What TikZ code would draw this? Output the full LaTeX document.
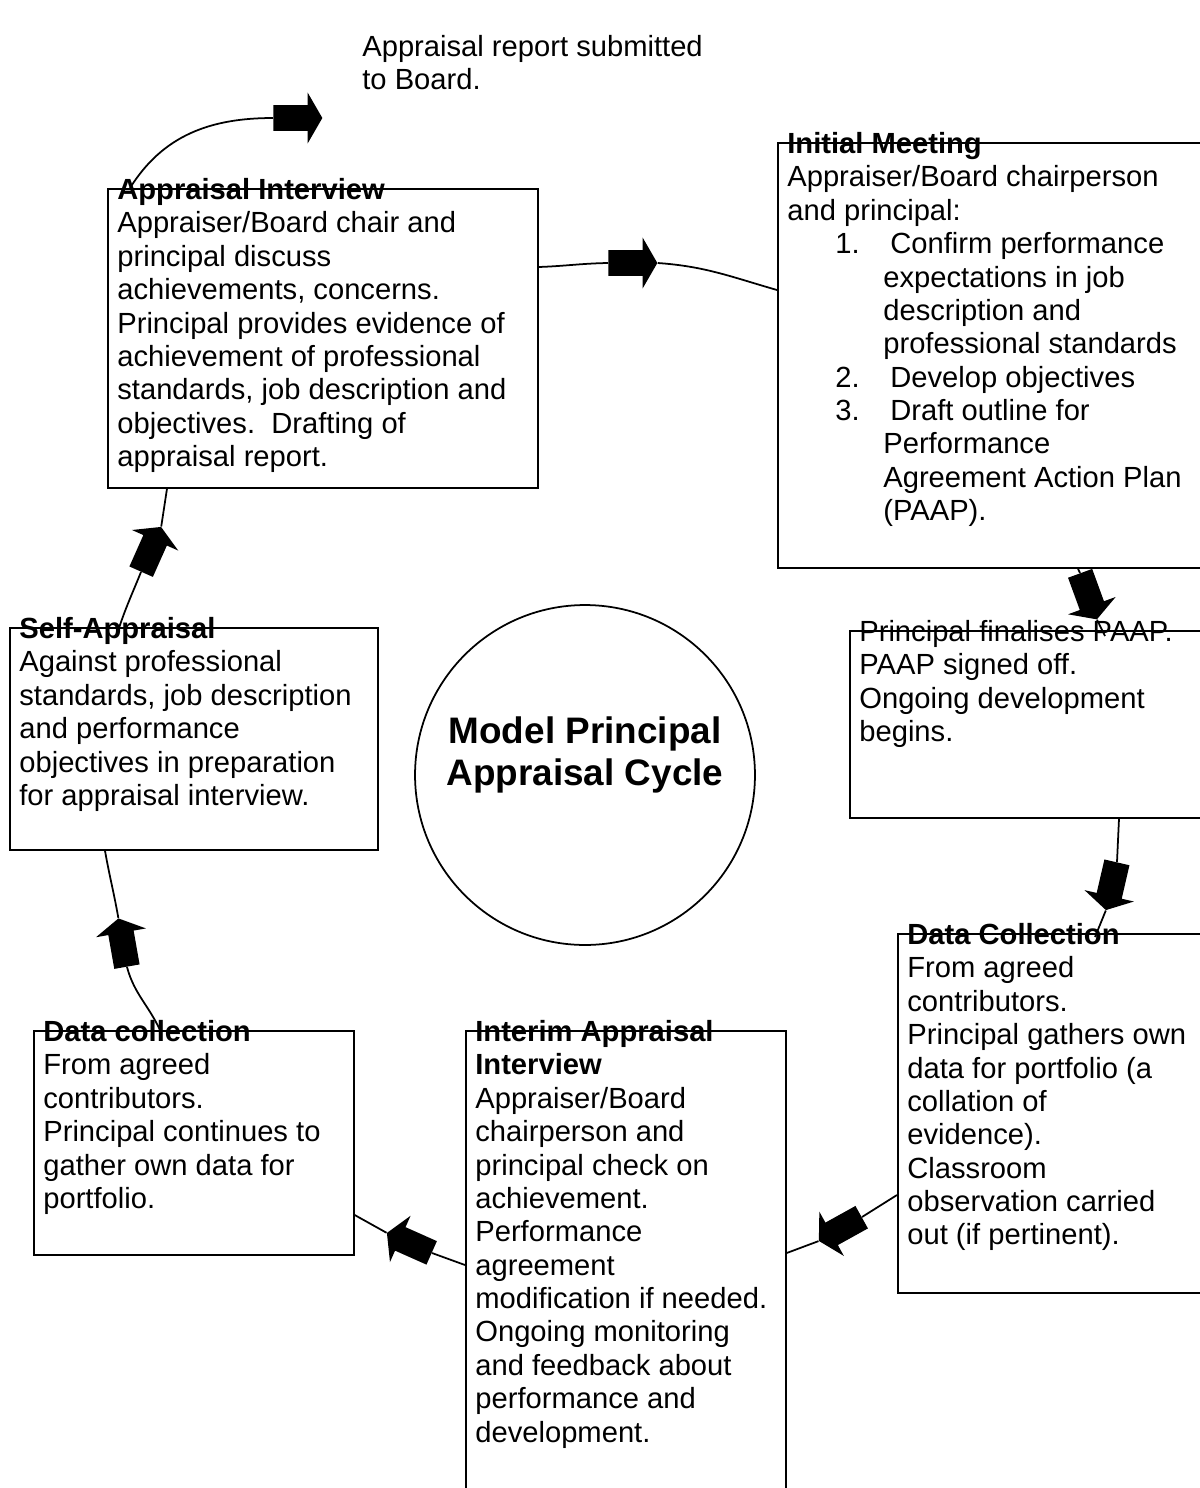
\documentclass[tikz,border=0pt]{standalone}
\usepackage{fontspec}
\setmainfont{Liberation Sans}
\usetikzlibrary{shapes.arrows,positioning}

\begin{document}
\begin{tikzpicture}[x=0.02cm, y=0.02cm,
        stage/.style={rectangle, draw, line width=1pt, fill=white, anchor=north west, inner sep=0pt},
        stagetext/.style={anchor=north west, inner sep=0pt, align=left, font=\fontsize{16.6}{19}\selectfont, execute at begin node={\rule{0pt}{13pt}}},
        blockarrow/.style={single arrow, fill=black, draw=none, anchor=tail, inner xsep=0pt, inner ysep=0.25cm, minimum height=0.98cm, single arrow head extend=0.25cm, single arrow tip angle=120},
        link/.style={line width=1pt}
    ]
        \useasboundingbox (0,0) rectangle (1200,-1488);

        % Stage boxes
        \node[stage, minimum width=8.6cm, minimum height=5.98cm] (ai) at (107,-188) {};
        \node[stage, minimum width=8.66cm, minimum height=8.5cm] (im) at (777,-142) {};
        \node[stage, minimum width=7.22cm, minimum height=3.74cm] (fp) at (849,-630) {};
        \node[stage, minimum width=6.26cm, minimum height=7.18cm] (dc) at (897,-933) {};
        \node[stage, minimum width=6.4cm, minimum height=9.4cm] (ia) at (465,-1030) {};
        \node[stage, minimum width=6.4cm, minimum height=4.48cm] (dl) at (33,-1030) {};
        \node[stage, minimum width=7.36cm, minimum height=4.44cm] (sa) at (9,-627) {};

        % Centre
        \node[circle, draw, line width=1pt, minimum size=6.8cm, inner sep=0pt] (cycle) at (585,-775) {};
        \node[align=center, font=\bfseries\fontsize{21}{23.8}\selectfont] (cycletext) at (585,-755) {Model Principal\\Appraisal Cycle};

        % Texts
        \node[stagetext] (report) at (362,-35) {Appraisal report submitted\\to Board.};
        \node[stagetext] (ai-text) at ([shift={(10,10)}]ai.north west) {\textbf{Appraisal Interview}\\Appraiser/Board chair and\\principal discuss\\achievements, concerns.\\Principal provides evidence of\\achievement of professional\\standards, job description and\\objectives.\ \ Drafting of\\appraisal report.};
        \node[stagetext] (im-text) at ([shift={(10,10)}]im.north west) {\textbf{Initial Meeting}\\Appraiser/Board chairperson\\and principal:\\
            \hspace*{0.96cm}\makebox[1.1cm][l]{1.}Confirm performance\\
            \hspace*{1.92cm}expectations in job\\
            \hspace*{1.92cm}description and\\
            \hspace*{1.92cm}professional standards\\
            \hspace*{0.96cm}\makebox[1.1cm][l]{2.}Develop objectives\\
            \hspace*{0.96cm}\makebox[1.1cm][l]{3.}Draft outline for\\
            \hspace*{1.92cm}Performance\\
            \hspace*{1.92cm}Agreement Action Plan\\
            \hspace*{1.92cm}(PAAP).};
        \node[stagetext] (fp-text) at ([shift={(10,10)}]fp.north west) {Principal finalises PAAP.\\PAAP signed off.\\Ongoing development\\begins.};
        \node[stagetext] (dc-text) at ([shift={(10,10)}]dc.north west) {\textbf{Data Collection}\\From agreed\\contributors.\\Principal gathers own\\data for portfolio (a\\collation of\\evidence).\\Classroom\\observation carried\\out (if pertinent).};
        \node[stagetext] (ia-text) at ([shift={(10,10)}]ia.north west) {\textbf{Interim Appraisal}\\\textbf{Interview}\\Appraiser/Board\\chairperson and\\principal check on\\achievement.\\Performance\\agreement\\modification if needed.\\Ongoing monitoring\\and feedback about\\performance and\\development.};
        \node[stagetext] (dl-text) at ([shift={(10,10)}]dl.north west) {\textbf{Data collection}\\From agreed\\contributors.\\Principal continues to\\gather own data for\\portfolio.};
        \node[stagetext] (sa-text) at ([shift={(10,10)}]sa.north west) {\textbf{Self-Appraisal}\\Against professional\\standards, job description\\and performance\\objectives in preparation\\for appraisal interview.};

        % Block arrows
        \node[blockarrow] (a1) at (273,-118) {};
        \node[blockarrow] (a2) at (608,-263) {};
        \node[blockarrow, rotate=-70] (a3) at (1080,-573) {};
        \node[blockarrow, rotate=-103] (a4) at (1117,-862) {};
        \node[blockarrow, rotate=-151] (a5) at (862,-1217) {};
        \node[blockarrow, rotate=156] (a6) at (432,-1253) {};
        \node[blockarrow, rotate=100] (a7) at (127,-967) {};
        \node[blockarrow, rotate=66] (a8) at (141,-572) {};

        % Cycle
        \draw[link] ([shift={(23,0)}]ai.north west) to[out=58,in=180] (a1.tail);
        \draw[link] ([shift={(0,-79)}]ai.north east) to[out=2,in=181] (a2.tail);
        \draw[link] (a2.tip) to[out=-4,in=164] ([shift={(0,-148)}]im.north west);
        \draw[link] ([shift={(301,0)}]im.south west) -- (a3.tail);
        \draw[link] (a3.tip) -- ([shift={(256,-6)}]fp.north west);
        \draw[link] ([shift={(270,0)}]fp.south west) -- (a4.tail);
        \draw[link] (a4.tip) -- ([shift={(198,-4)}]dc.north west);
        \draw[link] ([shift={(0,-262)}]dc.north west) -- (a5.tail);
        \draw[link] (a5.tip) -- ([shift={(0,-223)}]ia.north east);
        \draw[link] ([shift={(0,-235)}]ia.north west) -- (a6.tail);
        \draw[link] (a6.tip) -- ([shift={(0,-185)}]dl.north east);
        \draw[link] ([shift={(127,0)}]dl.north west) to[out=115,in=-75] (a7.tail);
        \draw[link] (a7.tip) to[out=100,in=-80] ([shift={(96,0)}]sa.south west);
        \draw[link] ([shift={(109,-4)}]sa.north west) to[out=72,in=-112] (a8.tail);
        \draw[link] (a8.tip) -- ([shift={(60,0)}]ai.south west);

    \end{tikzpicture}
\end{document}
